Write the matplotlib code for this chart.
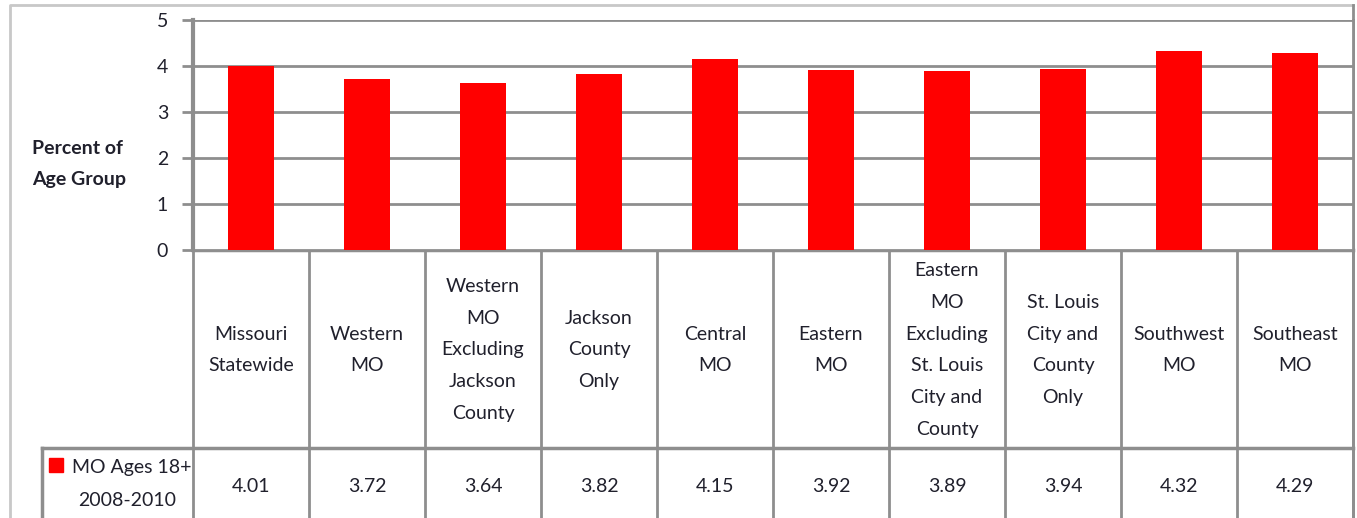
import matplotlib.pyplot as plt

regions = ["Missouri\nStatewide", "Western\nMO", "Western\nMO\nExcluding\nJackson\nCounty",
           "Jackson\nCounty\nOnly", "Central\nMO", "Eastern\nMO",
           "Eastern\nMO\nExcluding\nSt. Louis\nCity and\nCounty",
           "St. Louis\nCity and\nCounty\nOnly", "Southwest\nMO", "Southeast\nMO"]
values = [4.01, 3.72, 3.64, 3.82, 4.15, 3.92, 3.89, 3.94, 4.32, 4.29]
yticks = [0, 1, 2, 3, 4, 5]
series_name = "MO Ages 18+\n2008-2010"

plt.rcParams['font.family'] = ['Lato', 'DejaVu Sans']
W, H = 1357, 518
txt = '#20202c'
line = '#8e8e8e'
fs = 14

fig = plt.figure(figsize=(W / 100, H / 100), dpi=100)

# overlay in pixel coordinates for frame + table
ov = fig.add_axes([0, 0, 1, 1])
ov.set_xlim(0, W)
ov.set_ylim(H, 0)
ov.axis('off')

# bar area
x0, x1, ytop, ybot = 193, 1353, 20, 250
ax = fig.add_axes([x0 / W, 1 - ybot / H, (x1 - x0) / W, (ybot - ytop) / H])
n = len(values)
ax.bar(range(n), values, width=0.4, color='#ff0000', zorder=3)
ax.set_xlim(-0.5, n - 0.5)
ax.set_ylim(0, 5)
ax.set_yticks(yticks)
ax.set_xticks([])
ax.yaxis.grid(True, color=line, linewidth=2)
ax.tick_params(axis='y', length=8, width=2, color=line, labelsize=fs, labelcolor=txt, pad=10)
for s in ['top', 'bottom']:
    ax.spines[s].set_visible(False)
ax.spines['right'].set_color(line)
ax.spines['right'].set_linewidth(2)
ax.spines['left'].set_color(line)
ax.spines['left'].set_linewidth(3)

# outer frame
ov.plot([10, 10, x1], [H, 5, 5], color='#c8c8c8', lw=2)
ov.plot([x1, x1], [5, H], color=line, lw=2)

# table
cw = (x1 - x0) / n
yrow = 448
ov.plot([x0, x1], [ybot, ybot], color=line, lw=2.5)
ov.plot([42, x1], [yrow, yrow], color=line, lw=2.5)
ov.plot([42, 42], [yrow, H], color=line, lw=2.5)
for i in range(n + 1):
    ov.plot([x0 + i * cw] * 2, [ybot, H], color=line, lw=2)
for i in range(n):
    cx = x0 + (i + 0.5) * cw
    ov.text(cx, (ybot + yrow) / 2 + 1, regions[i], ha='center', va='center',
            fontsize=fs, color=txt, linespacing=2.05)
    ov.text(cx, 487, f"{values[i]:.2f}", ha='center', va='center', fontsize=fs, color=txt)

# legend cell
ov.add_patch(plt.Rectangle((49, 458), 14, 14, color='#ff0000'))
ov.text(72, 468, series_name.split("\n")[0], ha='left', va='center', fontsize=fs, color=txt)
ov.text(127, 500, series_name.split("\n")[1], ha='center', va='center', fontsize=fs, color=txt)

# axis title
ov.text(32, 164, "Percent of\nAge Group", ha='left', va='center', fontsize=fs,
        fontweight='bold', color=txt, linespacing=2.05)

fig.savefig('out.png', dpi=100)
